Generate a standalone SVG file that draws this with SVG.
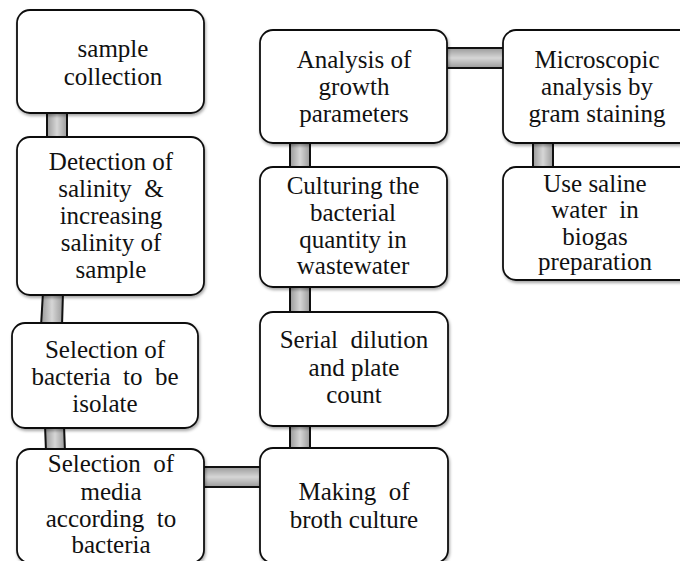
<svg xmlns="http://www.w3.org/2000/svg" width="680" height="561" viewBox="0 0 680 561">
  <defs>
    <linearGradient id="barV" x1="0" y1="0" x2="1" y2="0">
      <stop offset="0" stop-color="#9a9a9a"/>
      <stop offset="0.5" stop-color="#d6d6d6"/>
      <stop offset="1" stop-color="#9a9a9a"/>
    </linearGradient>
    <linearGradient id="barH" x1="0" y1="0" x2="0" y2="1">
      <stop offset="0" stop-color="#9a9a9a"/>
      <stop offset="0.5" stop-color="#d6d6d6"/>
      <stop offset="1" stop-color="#9a9a9a"/>
    </linearGradient>
    <filter id="shadow" x="-10%" y="-10%" width="120%" height="130%">
      <feDropShadow dx="1" dy="2" stdDeviation="1.5" flood-color="#000" flood-opacity="0.35"/>
    </filter>
  </defs>
  <style>
    .box { fill: #ffffff; stroke: #111; stroke-width: 1.8; filter: url(#shadow); }
    .barv { fill: url(#barV); stroke: none; }
    .barh { fill: url(#barH); stroke: none; }
    .edge { stroke: #111; stroke-width: 2; fill: none; }
    text { font-family: "Liberation Serif", "Times New Roman", serif; font-size: 25px; fill: #111; text-anchor: middle; }
  </style>
  <rect width="680" height="561" fill="#ffffff"/>

  <g id="connectors">
    <!-- sample collection to detection -->
    <rect class="barv" x="47" y="110" width="20" height="30"/>
    <path class="edge" d="M47 110 V140 M67 110 V140"/>
    <!-- detection to selection of bacteria -->
    <polygon class="barv" points="43,292 63,292 62,326 41,326" fill="url(#barV)"/>
    <path class="edge" d="M43 292 L41 326 M63 292 L62 326"/>
    <!-- selection of bacteria to selection of media -->
    <polygon class="barv" points="45,425 64,425 65,452 46,452"/>
    <path class="edge" d="M45 425 L46 452 M64 425 L65 452"/>
    <!-- selection of media to broth culture -->
    <rect class="barh" x="200" y="467" width="64" height="20"/>
    <path class="edge" d="M200 467 H264 M200 487 H264"/>
    <!-- broth culture to serial dilution -->
    <rect class="barv" x="290" y="423" width="20" height="28"/>
    <path class="edge" d="M290 423 V451 M310 423 V451"/>
    <!-- serial dilution to culturing -->
    <rect class="barv" x="290" y="284" width="20" height="31"/>
    <path class="edge" d="M290 284 V315 M310 284 V315"/>
    <!-- culturing to analysis of growth -->
    <rect class="barv" x="290" y="140" width="20" height="30"/>
    <path class="edge" d="M290 140 V170 M310 140 V170"/>
    <!-- analysis of growth to microscopic analysis -->
    <rect class="barh" x="444" y="48" width="62" height="20"/>
    <path class="edge" d="M444 48 H506 M444 68 H506"/>
    <!-- microscopic analysis to saline water use -->
    <rect class="barv" x="533" y="140" width="20" height="30"/>
    <path class="edge" d="M533 140 V170 M553 140 V170"/>
  </g>

  <g id="sample-collection">
    <rect class="box" x="17" y="10" width="187" height="103" rx="13"/>
    <text x="113" y="57">sample</text>
    <text x="113" y="85">collection</text>
  </g>

  <g id="detection-salinity">
    <rect class="box" x="17" y="137" width="187" height="158" rx="13"/>
    <text x="111" y="170">Detection of</text>
    <text x="111" y="197" xml:space="preserve">salinity  &amp;</text>
    <text x="111" y="224">increasing</text>
    <text x="111" y="251">salinity of</text>
    <text x="111" y="278">sample</text>
  </g>

  <g id="selection-bacteria">
    <rect class="box" x="12" y="323" width="186" height="105" rx="13"/>
    <text x="105" y="358">Selection of</text>
    <text x="105" y="385" xml:space="preserve">bacteria  to  be</text>
    <text x="105" y="412">isolate</text>
  </g>

  <g id="selection-media">
    <rect class="box" x="17" y="449" width="187" height="114" rx="13"/>
    <text x="111" y="472" xml:space="preserve">Selection  of</text>
    <text x="111" y="500">media</text>
    <text x="111" y="527" xml:space="preserve">according  to</text>
    <text x="111" y="553">bacteria</text>
  </g>

  <g id="broth-culture">
    <rect class="box" x="260" y="448" width="188" height="115" rx="13"/>
    <text x="354" y="500" xml:space="preserve">Making  of</text>
    <text x="354" y="528">broth culture</text>
  </g>

  <g id="serial-dilution">
    <rect class="box" x="260" y="312" width="188" height="114" rx="13"/>
    <text x="354" y="348" xml:space="preserve">Serial  dilution</text>
    <text x="354" y="376">and plate</text>
    <text x="354" y="403">count</text>
  </g>

  <g id="culturing">
    <rect class="box" x="260" y="167" width="187" height="120" rx="13"/>
    <text x="353" y="194">Culturing the</text>
    <text x="353" y="221">bacterial</text>
    <text x="353" y="248">quantity in</text>
    <text x="353" y="274">wastewater</text>
  </g>

  <g id="growth-parameters">
    <rect class="box" x="260" y="30" width="187" height="113" rx="13"/>
    <text x="354" y="68">Analysis of</text>
    <text x="354" y="95">growth</text>
    <text x="354" y="122">parameters</text>
  </g>

  <g id="microscopic-analysis">
    <rect class="box" x="503" y="30" width="190" height="113" rx="13"/>
    <text x="597" y="68">Microscopic</text>
    <text x="597" y="95">analysis by</text>
    <text x="597" y="122">gram staining</text>
  </g>

  <g id="biogas-preparation">
    <rect class="box" x="503" y="167" width="190" height="113" rx="13"/>
    <text x="595" y="192">Use saline</text>
    <text x="595" y="218" xml:space="preserve">water  in</text>
    <text x="595" y="245">biogas</text>
    <text x="595" y="270">preparation</text>
  </g>
</svg>
